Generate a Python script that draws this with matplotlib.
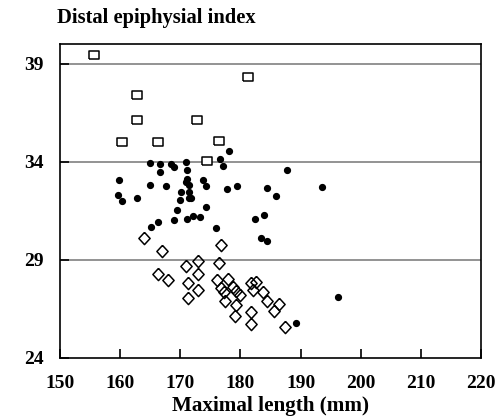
import matplotlib
matplotlib.use("Agg")
import matplotlib.pyplot as plt
import numpy as np

# Data
sq_x = [155.6, 162.8, 162.8, 172.8, 160.3, 166.3, 181.3, 176.4, 174.4]
sq_y = [39.42, 37.38, 36.14, 36.14, 35.02, 35.02, 38.32, 35.07, 34.05]

dot_x = [159.8, 159.7, 160.3, 162.8, 165.0, 165.0, 166.6, 166.6, 167.7, 168.4,
         169.0, 171.0, 171.1, 171.1, 171.0, 171.4, 170.2, 171.4, 170.0, 171.4,
         171.8, 169.5, 169.0, 171.1, 172.1, 173.3, 166.3, 165.2, 173.7, 174.2,
         174.2, 175.9, 176.6, 177.1, 178.1, 177.7, 179.4, 182.5, 184.0, 183.5,
         184.5, 184.4, 185.9, 187.8, 193.6, 196.3, 189.3]
dot_y = [33.05, 32.30, 31.99, 32.13, 33.93, 32.80, 33.87, 33.49, 32.74, 33.88,
         33.71, 33.98, 33.59, 33.12, 32.95, 32.83, 32.47, 32.47, 32.06, 32.13,
         32.13, 31.53, 31.04, 31.06, 31.22, 31.21, 30.93, 30.70, 33.05, 32.75,
         31.69, 30.63, 34.16, 33.80, 34.54, 32.61, 32.77, 31.07, 31.27, 30.09,
         29.97, 32.66, 32.28, 33.58, 32.71, 27.11, 25.77]

dia_x = [163.9, 167.0, 176.7, 166.3, 167.9, 170.9, 172.9, 172.9, 176.4, 171.3,
         172.9, 171.3, 176.1, 177.9, 176.8, 178.7, 179.2, 179.9, 177.5, 179.3,
         179.1, 181.8, 182.6, 182.1, 183.8, 184.5, 186.4, 185.5, 181.8, 181.8,
         187.4, 177.2]
dia_y = [30.10, 29.46, 29.77, 28.29, 27.98, 28.69, 28.96, 28.29, 28.85, 27.81,
         27.47, 27.05, 27.98, 28.03, 27.56, 27.61, 27.42, 27.19, 26.91, 26.70,
         26.14, 27.81, 27.85, 27.47, 27.37, 26.91, 26.76, 26.38, 26.32, 25.72,
         25.58, 27.35]

x_ticks = [150, 160, 170, 180, 190, 200, 210, 220]
y_ticks = [24, 29, 34, 39]
grid_y = [29, 34, 39]

plt.rcParams['font.family'] = ['Liberation Serif', 'DejaVu Serif']
plt.rcParams['font.weight'] = 'bold'

fig = plt.figure(figsize=(5.03, 4.20), dpi=100)
ax = fig.add_axes([60/503, 62/420, 421/503, 314/420])

for g in grid_y:
    ax.axhline(g, color='#808080', lw=1.2, zorder=1)

rect = [(-1, -0.7), (1, -0.7), (1, 0.7), (-1, 0.7), (-1, -0.7)]
diam = [(0, 1), (0.92, 0), (0, -1), (-0.92, 0), (0, 1)]

ax.plot(dot_x, dot_y, 'o', color='black', ms=4.2, mec='black', zorder=3, ls='none')
ax.plot(dia_x, dia_y, marker=diam, ms=8.8, mfc='none', mec='black', mew=1.1,
        ls='none', zorder=4)
ax.plot(sq_x, sq_y, marker=rect, ms=7.3, mfc='white', mec='black', mew=1.1,
        ls='none', zorder=5)

ax.set_xlim(150, 220)
ax.set_ylim(24, 40)
ax.set_xticks(x_ticks)
ax.set_yticks(y_ticks)
ax.tick_params(direction='in', length=6.5, width=1.2, labelsize=14, pad=12)
for lab in ax.get_xticklabels() + ax.get_yticklabels():
    lab.set_fontweight('bold')
for s in ax.spines.values():
    s.set_linewidth(1.2)

ax.set_xlabel('Maximal length (mm)', fontsize=15.2, fontweight='bold', labelpad=3)
fig.text(57/503, 1 - 23/420, 'Distal epiphysial index', fontsize=14.8,
         fontweight='bold', ha='left', va='baseline')

fig.savefig('out.png', dpi=100)
